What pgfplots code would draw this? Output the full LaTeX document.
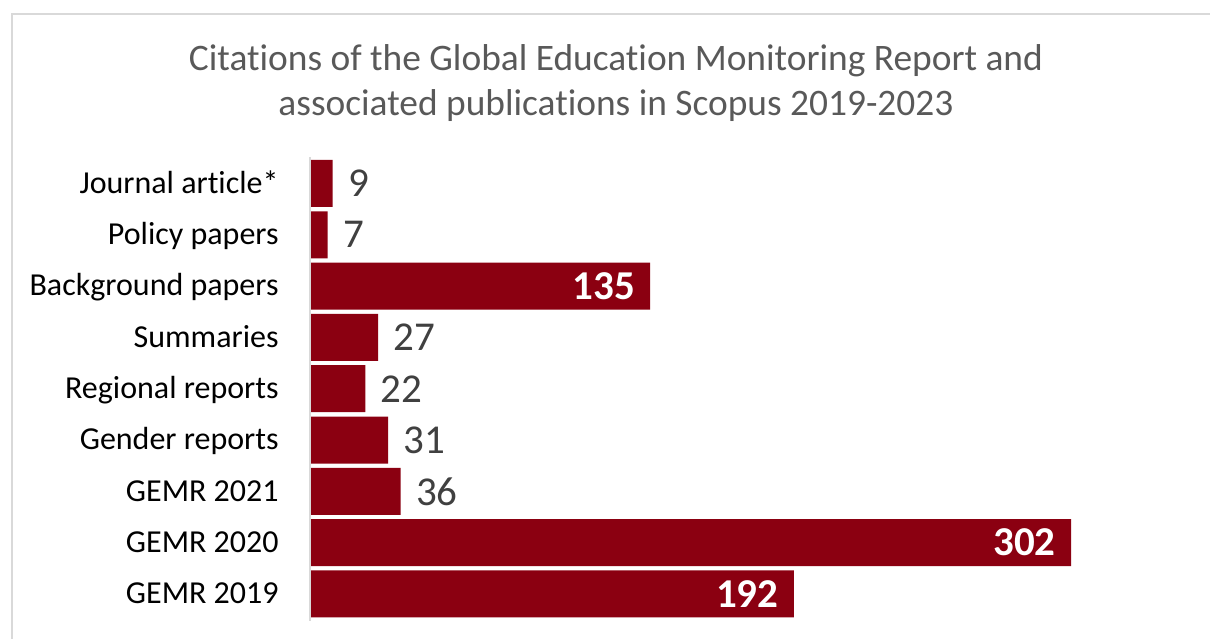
\documentclass[border=0pt]{standalone}
\usepackage{pgfplots}
\pgfplotsset{compat=1.18}
\usepackage{fontspec}
\setmainfont{Carlito}[Ligatures=NoCommon]
\definecolor{barred}{HTML}{8B0011}
\definecolor{titlegray}{HTML}{595959}
\definecolor{lblgray}{HTML}{404040}
\definecolor{framegray}{HTML}{D9D9D9}
\begin{document}
\begin{tikzpicture}
\useasboundingbox (0,0) rectangle (605pt,-319pt);
\draw[framegray, line width=0.8pt] (6pt,-320pt) -- (6pt,-7pt) -- (606pt,-7pt);
\node[anchor=base, titlegray, inner sep=0pt, font=\fontsize{18.7}{22}\selectfont] at (308pt,-35pt) {Citations of the Global Education Monitoring Report and};
\node[anchor=base, titlegray, inner sep=0pt, font=\fontsize{18.7}{22}\selectfont] at (308pt,-57.5pt) {associated publications in Scopus 2019-2023};
\begin{axis}[
  at={(155pt,-78.4pt)}, anchor=north west,
  scale only axis, width=435pt, height=231.9pt,
  xmin=0, xmax=345.2, ymin=-0.52, ymax=8.52, y dir=reverse,
  axis lines*=left, axis line style={draw=none},
  xtick=\empty, ytick={0,...,8}, major tick length=0pt,
  yticklabels={Journal article*, Policy papers, Background papers, Summaries, Regional reports, Gender reports, GEMR 2021, GEMR 2020, GEMR 2019},
  yticklabel style={anchor=base east, inner sep=0pt, xshift=-15.5pt, yshift=-4.9pt, font=\fontsize{16}{19}\selectfont, text=black},
  /pgf/number format/assume math mode=true,
  clip=false,
]
\addplot[xbar, fill=barred, draw=none, bar width=0.916, bar shift=0pt,
  point meta=x, nodes near coords,
  nodes near coords style={anchor=west, text=lblgray, inner sep=0pt, xshift=7.5pt, font=\fontsize{20.5}{24}\selectfont}]
  table {
x y
9 0
7 1
27 3
22 4
31 5
36 6
};
\addplot[xbar, fill=barred, draw=none, bar width=0.916, bar shift=0pt,
  point meta=x, nodes near coords,
  nodes near coords style={anchor=east, text=white, inner sep=0pt, xshift=-7.5pt, font=\fontsize{20.5}{24}\selectfont\bfseries}]
  table {
x y
135 2
302 7
192 8
};
\draw[framegray, line width=0.8pt] (axis cs:0,-0.52) -- (axis cs:0,8.52);
\end{axis}
\end{tikzpicture}
\end{document}
